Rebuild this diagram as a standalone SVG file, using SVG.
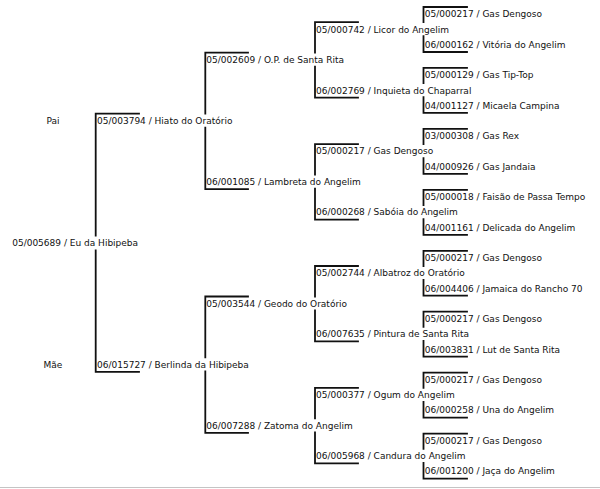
<svg xmlns="http://www.w3.org/2000/svg" width="600" height="489" viewBox="0 0 600 489">
<style>
  text { font-family: "DejaVu Sans", "Liberation Sans", sans-serif; font-size: 9px; fill: #111; }
  .ln { stroke: #111; stroke-width: 1.8; fill: none; stroke-linecap: square; }
  .rule { stroke: #c4c4c4; stroke-width: 1; }
</style>
<rect width="600" height="489" fill="#fff"/>
<g id="connectors">
  <!-- column 1 bracket -->
  <path class="ln" d="M139 113.7H95.7V235.5M95.7 250.5V371.9H139"/>
  <!-- column 2 brackets -->
  <path class="ln" d="M248 52.7H205.3V113.7M205.3 127.7V189.1H248"/>
  <path class="ln" d="M248 296.5H205.3V357.4M205.3 371.4V432.9H248"/>
  <!-- column 3 brackets -->
  <path class="ln" d="M358 22.2H315V52.7M315 66.7V97.7H358"/>
  <path class="ln" d="M358 144.1H315V174.6M315 188.6V219.6H358"/>
  <path class="ln" d="M358 266H315V296.5M315 310.5V341.4H358"/>
  <path class="ln" d="M358 387.9H315V418.4M315 432.4V463.3H358"/>
  <!-- column 4 brackets -->
  <path class="ln" d="M467 7H423.5V22.2M423.5 36.2V52H467"/>
  <path class="ln" d="M467 67.9H423.5V83.2M423.5 97.2V112.9H467"/>
  <path class="ln" d="M467 128.9H423.5V144.1M423.5 158.1V173.9H467"/>
  <path class="ln" d="M467 189.8H423.5V205.1M423.5 219.1V234.8H467"/>
  <path class="ln" d="M467 250.8H423.5V266M423.5 280V295.7H467"/>
  <path class="ln" d="M467 311.7H423.5V326.9M423.5 340.9V356.7H467"/>
  <path class="ln" d="M467 372.6H423.5V387.9M423.5 401.9V417.6H467"/>
  <path class="ln" d="M467 433.6H423.5V448.8M423.5 462.8V478.6H467"/>
  <line class="rule" x1="0" y1="487.5" x2="600" y2="487.5"/>
</g>
<g id="labels">
  <text x="46.5" y="124">Pai</text>
  <text x="43.5" y="367.7">Mãe</text>
</g>
<g id="n-root"><text x="12.2" y="245.8">05/005689 / Eu da Hibipeba</text></g>
<g id="n-sire"><text x="97" y="124">05/003794 / Hiato do Oratório</text></g>
<g id="n-dam"><text x="97" y="367.7">06/015727 / Berlinda da Hibipeba</text></g>
<g id="n-ss"><text x="206.3" y="63">05/002609 / O.P. de Santa Rita</text></g>
<g id="n-sd"><text x="206.3" y="184.9">06/001085 / Lambreta do Angelim</text></g>
<g id="n-ds"><text x="206.3" y="306.8">05/003544 / Geodo do Oratório</text></g>
<g id="n-dd"><text x="206.3" y="428.7">06/007288 / Zatoma do Angelim</text></g>
<g id="n-sss"><text x="316" y="32.5">05/000742 / Licor do Angelim</text></g>
<g id="n-ssd"><text x="316" y="93.5">06/002769 / Inquieta do Chaparral</text></g>
<g id="n-sds"><text x="316" y="154.4">05/000217 / Gas Dengoso</text></g>
<g id="n-sdd"><text x="316" y="215.4">06/000268 / Sabóia do Angelim</text></g>
<g id="n-dss"><text x="316" y="276.3">05/002744 / Albatroz do Oratório</text></g>
<g id="n-dsd"><text x="316" y="337.2">06/007635 / Pintura de Santa Rita</text></g>
<g id="n-dds"><text x="316" y="398.2">05/000377 / Ogum do Angelim</text></g>
<g id="n-ddd"><text x="316" y="459.1">06/005968 / Candura do Angelim</text></g>
<g id="n-l0"><text x="424.8" y="17.3">05/000217 / Gas Dengoso</text></g>
<g id="n-l1"><text x="424.8" y="47.8">06/000162 / Vitória do Angelim</text></g>
<g id="n-l2"><text x="424.8" y="78.2">05/000129 / Gas Tip-Top</text></g>
<g id="n-l3"><text x="424.8" y="108.7">04/001127 / Micaela Campina</text></g>
<g id="n-l4"><text x="424.8" y="139.2">03/000308 / Gas Rex</text></g>
<g id="n-l5"><text x="424.8" y="169.7">04/000926 / Gas Jandaia</text></g>
<g id="n-l6"><text x="424.8" y="200.1">05/000018 / Faisão de Passa Tempo</text></g>
<g id="n-l7"><text x="424.8" y="230.6">04/001161 / Delicada do Angelim</text></g>
<g id="n-l8"><text x="424.8" y="261.1">05/000217 / Gas Dengoso</text></g>
<g id="n-l9"><text x="424.8" y="291.5">06/004406 / Jamaica do Rancho 70</text></g>
<g id="n-l10"><text x="424.8" y="322">05/000217 / Gas Dengoso</text></g>
<g id="n-l11"><text x="424.8" y="352.5">06/003831 / Lut de Santa Rita</text></g>
<g id="n-l12"><text x="424.8" y="382.9">05/000217 / Gas Dengoso</text></g>
<g id="n-l13"><text x="424.8" y="413.4">06/000258 / Una do Angelim</text></g>
<g id="n-l14"><text x="424.8" y="443.9">05/000217 / Gas Dengoso</text></g>
<g id="n-l15"><text x="424.8" y="474.4">06/001200 / Jaça do Angelim</text></g>
</svg>
